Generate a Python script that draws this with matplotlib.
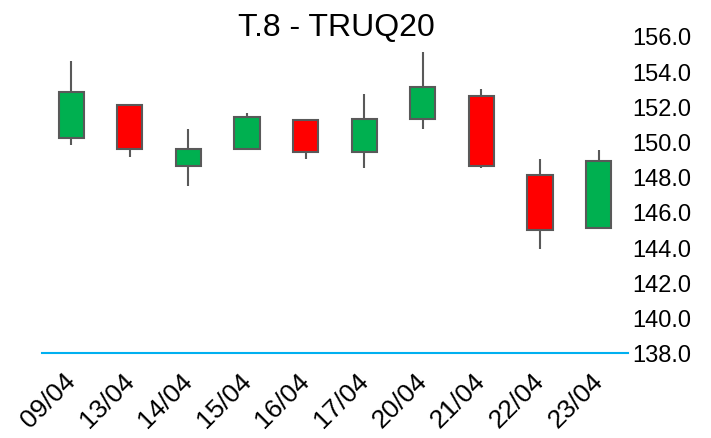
import numpy as np
import matplotlib.pyplot as plt
from matplotlib.patches import Rectangle
from matplotlib.transforms import ScaledTranslation

plt.rcParams['font.family'] = ['Liberation Sans', 'DejaVu Sans']

dates = ['09/04', '13/04', '14/04', '15/04', '16/04', '17/04', '20/04', '21/04', '22/04', '23/04']
opens = [150.2, 152.1, 148.6, 149.6, 151.2, 149.4, 151.3, 152.6, 148.1, 145.1]
highs = [154.6, 152.1, 150.7, 151.6, 151.2, 152.7, 155.1, 153.0, 149.0, 149.5]
lows = [149.8, 149.1, 147.5, 149.5, 149.0, 148.5, 150.7, 148.5, 143.9, 145.1]
closes = [152.8, 149.6, 149.6, 151.4, 149.4, 151.3, 153.1, 148.6, 145.0, 148.9]

up_col = '#00B050'
down_col = '#FF0000'
edge = '#595959'
body_w = 0.43

fig = plt.figure(figsize=(7.11, 4.39), dpi=100)
ax = fig.add_axes([0.059, 0.194, 0.824, 0.722])

for i in range(len(dates)):
    o, h, l, c = opens[i], highs[i], lows[i], closes[i]
    ax.vlines(i, l, h, color=edge, linewidth=1.5, zorder=1)
    col = up_col if c >= o else down_col
    ax.add_patch(Rectangle((i - body_w / 2, min(o, c)), body_w, abs(c - o),
                           facecolor=col, edgecolor=edge, linewidth=1.5, zorder=2))

ax.set_xlim(-0.5, len(dates) - 0.5)
ax.set_ylim(138, 156)
ax.set_yticks(np.arange(138, 157, 2))
ax.set_yticklabels([f'{v:.1f}' for v in np.arange(138, 157, 2)], fontsize=17)
ax.yaxis.tick_right()
ax.tick_params(axis='y', length=0, pad=3.5)
ax.tick_params(axis='x', length=0, pad=11)
ax.set_xticks(range(len(dates)))
ax.set_xticklabels(dates, rotation=45, ha='right', rotation_mode='anchor', fontsize=19)
# nudge the date labels a bit to the left
shift = ScaledTranslation(-8 / 100, 0, fig.dpi_scale_trans)
for lab in ax.get_xticklabels():
    lab.set_transform(lab.get_transform() + shift)

for s in ['top', 'left', 'right']:
    ax.spines[s].set_visible(False)
ax.spines['bottom'].set_color('#00B0F0')
ax.spines['bottom'].set_linewidth(1.5)

fig.text(0.4726, 1 - 36 / 439, 'T.8 - TRUQ20', fontsize=23, ha='center', va='baseline')

fig.savefig('out.png')
